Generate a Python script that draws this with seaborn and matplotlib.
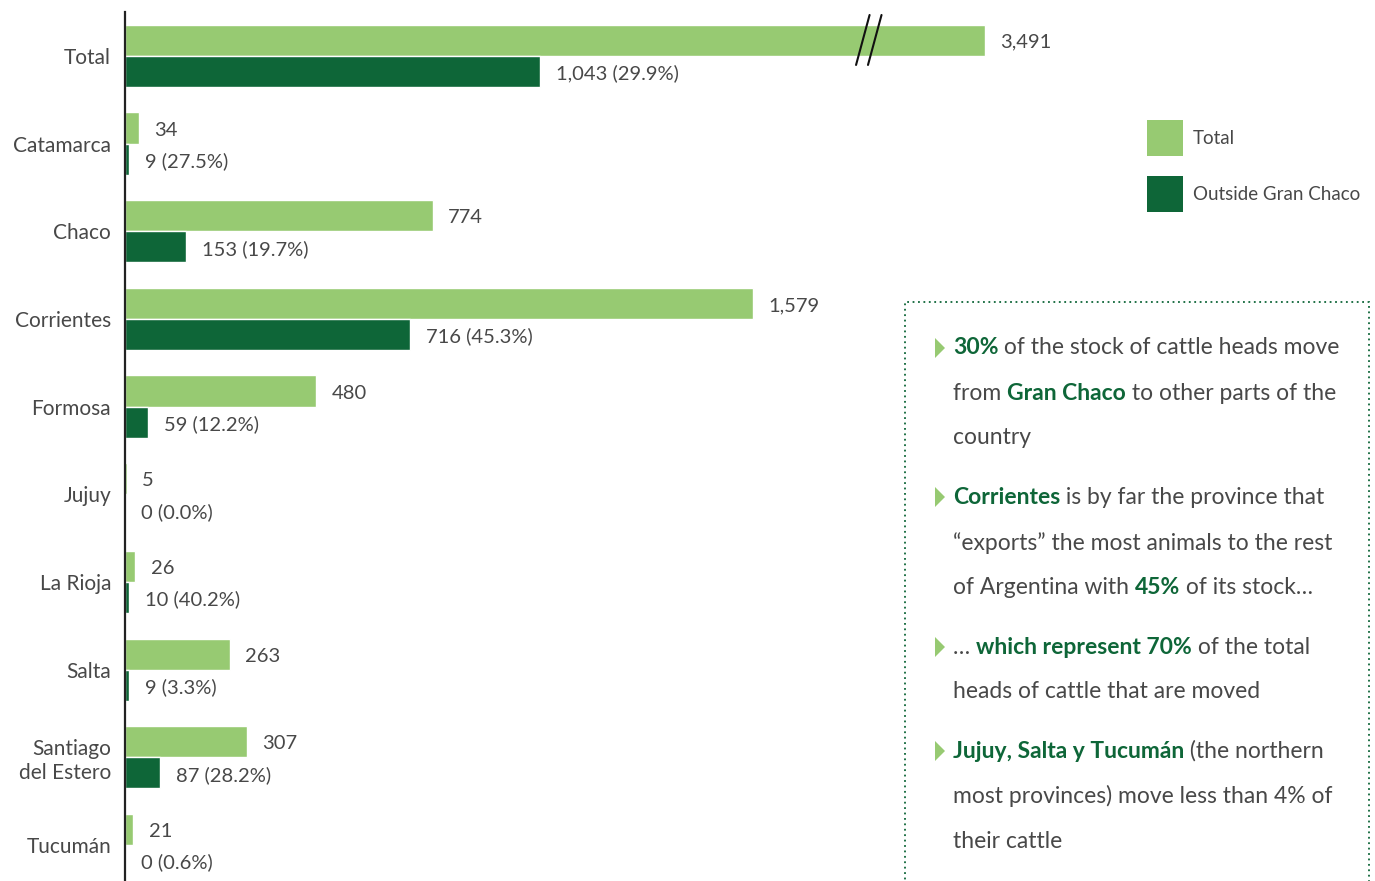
import matplotlib.pyplot as plt
import pandas as pd
import seaborn as sns
from matplotlib.patches import Rectangle, Polygon

# Data
provinces = ['Total', 'Catamarca', 'Chaco', 'Corrientes', 'Formosa', 'Jujuy',
             'La Rioja', 'Salta', 'Santiago\ndel Estero', 'Tucumán']
total_heads = [3491, 34, 774, 1579, 480, 5, 26, 263, 307, 21]
outside_heads = [1043, 9, 153, 716, 59, 0, 10, 9, 87, 0]
outside_pct = [29.9, 27.5, 19.7, 45.3, 12.2, 0.0, 40.2, 3.3, 28.2, 0.6]
series_names = ['Total', 'Outside Gran Chaco']

AXIS_BREAK = 2160  # the Total bar is cut here (axis break)

LIGHT = '#97ca72'
DARK = '#0e6638'
TXT = '#484848'

sns.set_theme(style='white')
plt.rcParams['font.family'] = ['Lato', 'DejaVu Sans']

df = pd.DataFrame({
    'province': provinces * 2,
    'series': [series_names[0]] * len(provinces) + [series_names[1]] * len(provinces),
    'value': total_heads + outside_heads,
})
df['shown'] = df['value'].clip(upper=AXIS_BREAK)

fig = plt.figure(figsize=(13.75, 8.81), dpi=100)
ax = fig.add_axes([125 / 1375, 0, (1100 - 125) / 1375, (881 - 12) / 881])

sns.barplot(data=df, y='province', x='shown', hue='series', orient='h',
            palette=[LIGHT, DARK], width=0.71, saturation=1, ax=ax,
            legend=False, order=provinces, hue_order=series_names)

ax.set_xlim(0, 2450)
ax.set_ylim(9.41, -0.5)
ax.set_xlabel('')
ax.set_ylabel('')
ax.set_xticks([])
for s in ['top', 'right', 'bottom']:
    ax.spines[s].set_visible(False)
ax.spines['left'].set_color('#222222')
ax.spines['left'].set_linewidth(1.6)
ax.tick_params(axis='y', length=0, pad=10, labelsize=15, labelcolor=TXT)
for lab in ax.get_yticklabels():
    lab.set_multialignment('right')

# bar value labels
off = 0.71 / 4
for i, prov in enumerate(provinces):
    v = min(total_heads[i], AXIS_BREAK)
    ax.annotate(f'{total_heads[i]:,}', (v, i - off), xytext=(11, -1.5),
                textcoords='offset points', va='center', ha='left',
                fontsize=14.5, color=TXT)
    ax.annotate(f'{outside_heads[i]:,} ({outside_pct[i]:.1f}%)', (outside_heads[i], i + off),
                xytext=(11.5, -1.5), textcoords='offset points', va='center', ha='left',
                fontsize=14.5, color=TXT)

# axis break marks on the Total bar
for x0 in [1837, 1867]:
    ax.plot([x0, x0 + 34], [0.104, -0.466], color='#111111', lw=1.5, clip_on=False)

# legend
W, H = 1375, 881
for k, (name, col) in enumerate(zip(series_names, [LIGHT, DARK])):
    yc = 138 + k * 56
    fig.patches.append(Rectangle((1147 / W, 1 - (yc + 18) / H), 36 / W, 36 / H,
                                 transform=fig.transFigure, facecolor=col, edgecolor='none'))
    fig.text(1193 / W, 1 - yc / H, name, va='center', ha='left', fontsize=13.5,
             color=TXT)

# note box
fig.patches.append(Rectangle((905 / W, -0.05), 464 / W, 1 - 302 / H + 0.05,
                             transform=fig.transFigure, facecolor='none',
                             edgecolor=DARK, linestyle=(0, (1, 2)), lw=1.3))

lines = [
    (True, [('30%', True), (' of the stock of cattle heads move', False)]),
    (False, [('from ', False), ('Gran Chaco', True), (' to other parts of the', False)]),
    (False, [('country', False)]),
    (True, [('Corrientes', True), (' is by far the province that', False)]),
    (False, [('\u201cexports\u201d the most animals to the rest', False)]),
    (False, [('of Argentina with ', False), ('45%', True), (' of its stock\u2026', False)]),
    (True, [('\u2026 ', False), ('which represent 70%', True), (' of the total', False)]),
    (False, [('heads of cattle that are moved', False)]),
    (True, [('Jujuy, Salta y Tucumán', True), (' (the northern', False)]),
    (False, [('most provinces) move less than 4% of', False)]),
    (False, [('their cattle', False)]),
]
line_y = [348, 393, 438, 497, 543, 588, 647, 692, 751, 796, 841]

renderer = fig.canvas.get_renderer()
for (bullet, segs), y in zip(lines, line_y):
    if bullet:
        tri = [(935 / W, 1 - (y - 10) / H), (935 / W, 1 - (y + 10) / H),
               (945 / W, 1 - y / H)]
        fig.patches.append(Polygon(tri, closed=True, transform=fig.transFigure,
                                   facecolor=LIGHT, edgecolor='none'))
    x = 953
    for s, bold in segs:
        t = fig.text(x / W, 1 - y / H, s, va='center', ha='left', fontsize=16.5,
                     color=DARK if bold else TXT,
                     fontweight='bold' if bold else 'normal')
        x = t.get_window_extent(renderer).x1

fig.savefig('out.png', dpi=100)
